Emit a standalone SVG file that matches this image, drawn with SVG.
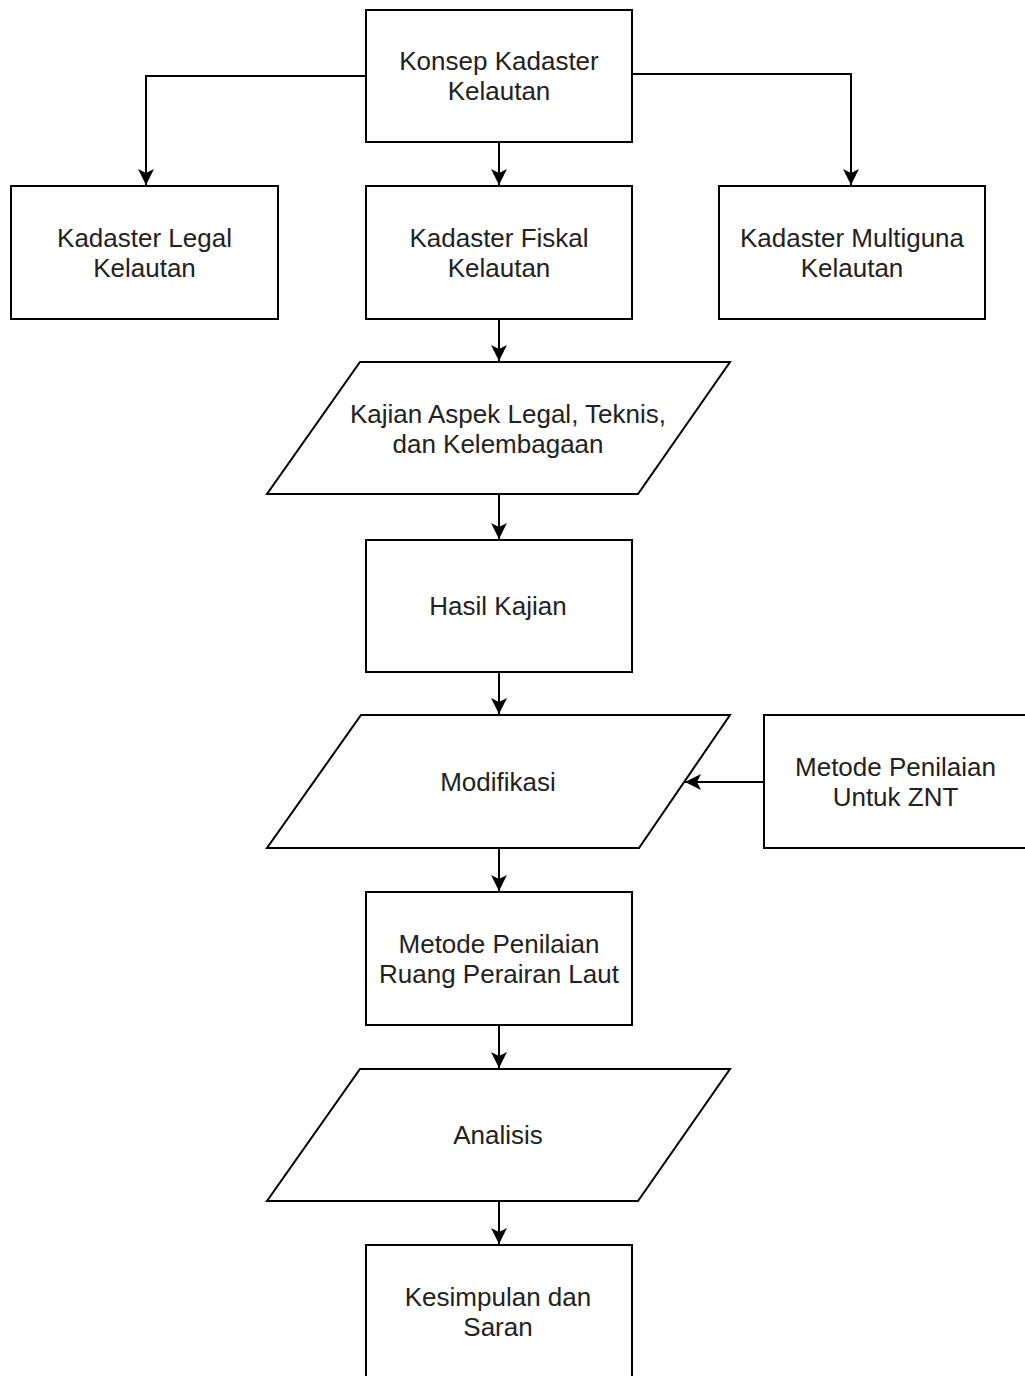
<svg xmlns="http://www.w3.org/2000/svg" width="1025" height="1376" viewBox="0 0 1025 1376">
  <style>
    .node { fill: #ffffff; stroke: #000000; stroke-width: 2; }
    .lbl { font-family: "Liberation Sans", Arial, sans-serif; font-size: 26px; fill: #222222; text-anchor: middle; }
    .edge { fill: none; stroke: #000000; stroke-width: 2; }
  </style>
  <defs>
    <marker id="arr" markerUnits="userSpaceOnUse" markerWidth="18" markerHeight="16" viewBox="0 0 18 16" refX="16" refY="8" orient="auto">
      <path d="M0,0 L16,8 L0,16 L4,8 Z" fill="#000000"/>
    </marker>
  </defs>
  <rect width="1025" height="1376" fill="#ffffff"/>

  <g id="connectors">
    <path class="edge" d="M366,76 H146 V185" marker-end="url(#arr)"/>
    <path class="edge" d="M632,74 H851 V185" marker-end="url(#arr)"/>
    <path class="edge" d="M499,142 V185" marker-end="url(#arr)"/>
    <path class="edge" d="M499,319 V361" marker-end="url(#arr)"/>
    <path class="edge" d="M499,494 V539" marker-end="url(#arr)"/>
    <path class="edge" d="M499,672 V714" marker-end="url(#arr)"/>
    <path class="edge" d="M764,782 H685" marker-end="url(#arr)"/>
    <path class="edge" d="M499,848 V891" marker-end="url(#arr)"/>
    <path class="edge" d="M499,1025 V1068" marker-end="url(#arr)"/>
    <path class="edge" d="M499,1201 V1244" marker-end="url(#arr)"/>
  </g>

  <g id="konsep">
    <rect class="node" x="366" y="10" width="266" height="132"/>
    <text class="lbl" x="499" y="70">Konsep Kadaster</text>
    <text class="lbl" x="499" y="100">Kelautan</text>
  </g>

  <g id="legal">
    <rect class="node" x="11" y="186" width="267" height="133"/>
    <text class="lbl" x="144.5" y="247">Kadaster Legal</text>
    <text class="lbl" x="144.5" y="277">Kelautan</text>
  </g>

  <g id="fiskal">
    <rect class="node" x="366" y="186" width="266" height="133"/>
    <text class="lbl" x="499" y="247">Kadaster Fiskal</text>
    <text class="lbl" x="499" y="277">Kelautan</text>
  </g>

  <g id="multiguna">
    <rect class="node" x="719" y="186" width="266" height="133"/>
    <text class="lbl" x="852" y="247">Kadaster Multiguna</text>
    <text class="lbl" x="852" y="277">Kelautan</text>
  </g>

  <g id="kajian">
    <polygon class="node" points="360,362 730,362 638,494 267,494"/>
    <text class="lbl" x="508" y="423">Kajian Aspek Legal, Teknis,</text>
    <text class="lbl" x="498" y="453">dan Kelembagaan</text>
  </g>

  <g id="hasil">
    <rect class="node" x="366" y="540" width="266" height="132"/>
    <text class="lbl" x="498" y="615">Hasil Kajian</text>
  </g>

  <g id="modifikasi">
    <polygon class="node" points="361,715 730,715 639,848 267,848"/>
    <text class="lbl" x="498" y="791">Modifikasi</text>
  </g>

  <g id="znt">
    <rect class="node" x="764" y="715" width="266" height="133"/>
    <text class="lbl" x="895.5" y="776">Metode Penilaian</text>
    <text class="lbl" x="895.5" y="806">Untuk ZNT</text>
  </g>

  <g id="metode">
    <rect class="node" x="366" y="892" width="266" height="133"/>
    <text class="lbl" x="499" y="953">Metode Penilaian</text>
    <text class="lbl" x="499" y="983">Ruang Perairan Laut</text>
  </g>

  <g id="analisis">
    <polygon class="node" points="360,1069 730,1069 638,1201 267,1201"/>
    <text class="lbl" x="498" y="1144">Analisis</text>
  </g>

  <g id="kesimpulan">
    <rect class="node" x="366" y="1245" width="266" height="140"/>
    <text class="lbl" x="498" y="1306">Kesimpulan dan</text>
    <text class="lbl" x="498" y="1336">Saran</text>
  </g>
</svg>
